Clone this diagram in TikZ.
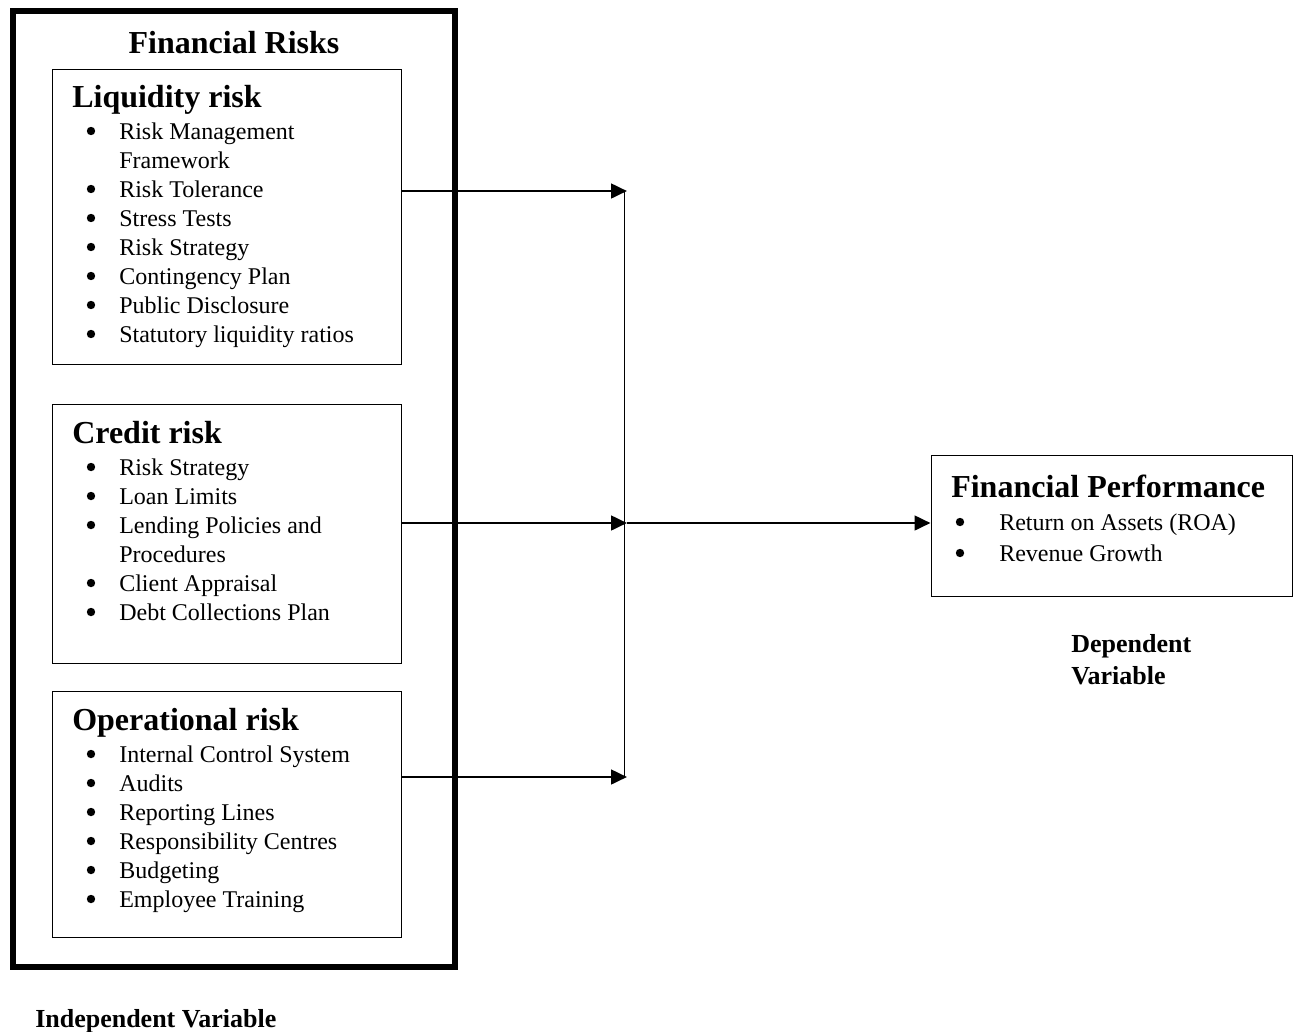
\documentclass[tikz,border=0pt]{standalone}
\usepackage{fontspec}
\setmainfont{Liberation Serif}
\usetikzlibrary{arrows.meta,fit}
\begin{document}
\begin{tikzpicture}[x=0.75pt,y=-0.75pt,
  txt/.style={anchor=base west, inner sep=0pt, font=\fontsize{18}{21.75}\selectfont},
  bul/.style={circle, fill=black, draw=none, inner sep=0pt, minimum size=6.3pt},
  head/.style={anchor=base west, inner sep=0pt, font=\fontsize{24}{28}\selectfont\bfseries},
  lab/.style={anchor=base west, inner sep=0pt, font=\fontsize{19.5}{24}\selectfont\bfseries},
  box/.style={draw, line width=0.75pt, inner sep=0pt},
  arr/.style={line width=2pt, -{Triangle[length=12pt,width=11pt]}}
]
\useasboundingbox (0,0) rectangle (1293,1032);

% outer box
\node[draw, line width=4.2pt, inner sep=0pt, fit={(13,11) (455,967)}] (outer) {};
\node[anchor=base, inner sep=0pt, font=\fontsize{24}{28}\selectfont\bfseries] (fr) at (234,53) {Financial Risks};

% liquidity
\node[box, fit={(52,69) (401,364)}] (liq) {};
\node[head] (liqh) at (72,107) {Liquidity risk};
\foreach \t [count=\i from 0] in {Risk Management,Framework,Risk Tolerance,Stress Tests,Risk Strategy,Contingency Plan,Public Disclosure,Statutory liquidity ratios}{
  \node[txt] (l\i) at (119,139+29*\i) {\t};
}
\foreach \i in {0,2,3,4,5,6,7}{
  \node[bul] (lb\i) at (91,131+29*\i) {};
}

% credit
\node[box, fit={(52,404) (401,663)}] (cre) {};
\node[head] (creh) at (72,443) {Credit risk};
\foreach \t [count=\i from 0] in {Risk Strategy,Loan Limits,Lending Policies and,Procedures,Client Appraisal,Debt Collections Plan}{
  \node[txt] (c\i) at (119,475+29*\i) {\t};
}
\foreach \i in {0,1,2,4,5}{
  \node[bul] (cb\i) at (91,467+29*\i) {};
}

% operational
\node[box, fit={(52,691) (401,937)}] (ope) {};
\node[head] (opeh) at (72,730) {Operational risk};
\foreach \t [count=\i from 0] in {Internal Control System,Audits,Reporting Lines,Responsibility Centres,Budgeting,Employee Training}{
  \node[txt] (o\i) at (119,762+29*\i) {\t};
  \node[bul] (ob\i) at (91,754+29*\i) {};
}

% financial performance
\node[box, fit={(931,455) (1292,596)}] (fp) {};
\node[head] (fph) at (951,497) {Financial Performance};
\node[bul] (fb0) at (960,522) {};
\node[txt] (f0) at (999,530) {Return on Assets (ROA)};
\node[bul] (fb1) at (960,553) {};
\node[txt] (f1) at (999,561) {Revenue Growth};

% labels
\node[lab] (dep1) at (1071,652) {Dependent};
\node[lab] (dep2) at (1071,684) {Variable};
\node[lab] (ind) at (35,1027) {Independent Variable};

% connectors
\coordinate (j1) at (627,191);
\coordinate (j2) at (627,523);
\coordinate (j3) at (627,777);
\draw[line width=0.75pt] (624,191) -- (624,777);
\draw[arr] (liq.east |- j1) -- (j1);
\draw[arr] (cre.east |- j2) -- (j2);
\draw[arr] (ope.east |- j3) -- (j3);
\draw[arr] (j2) -- (fp.west |- j2);
\end{tikzpicture}
\end{document}
